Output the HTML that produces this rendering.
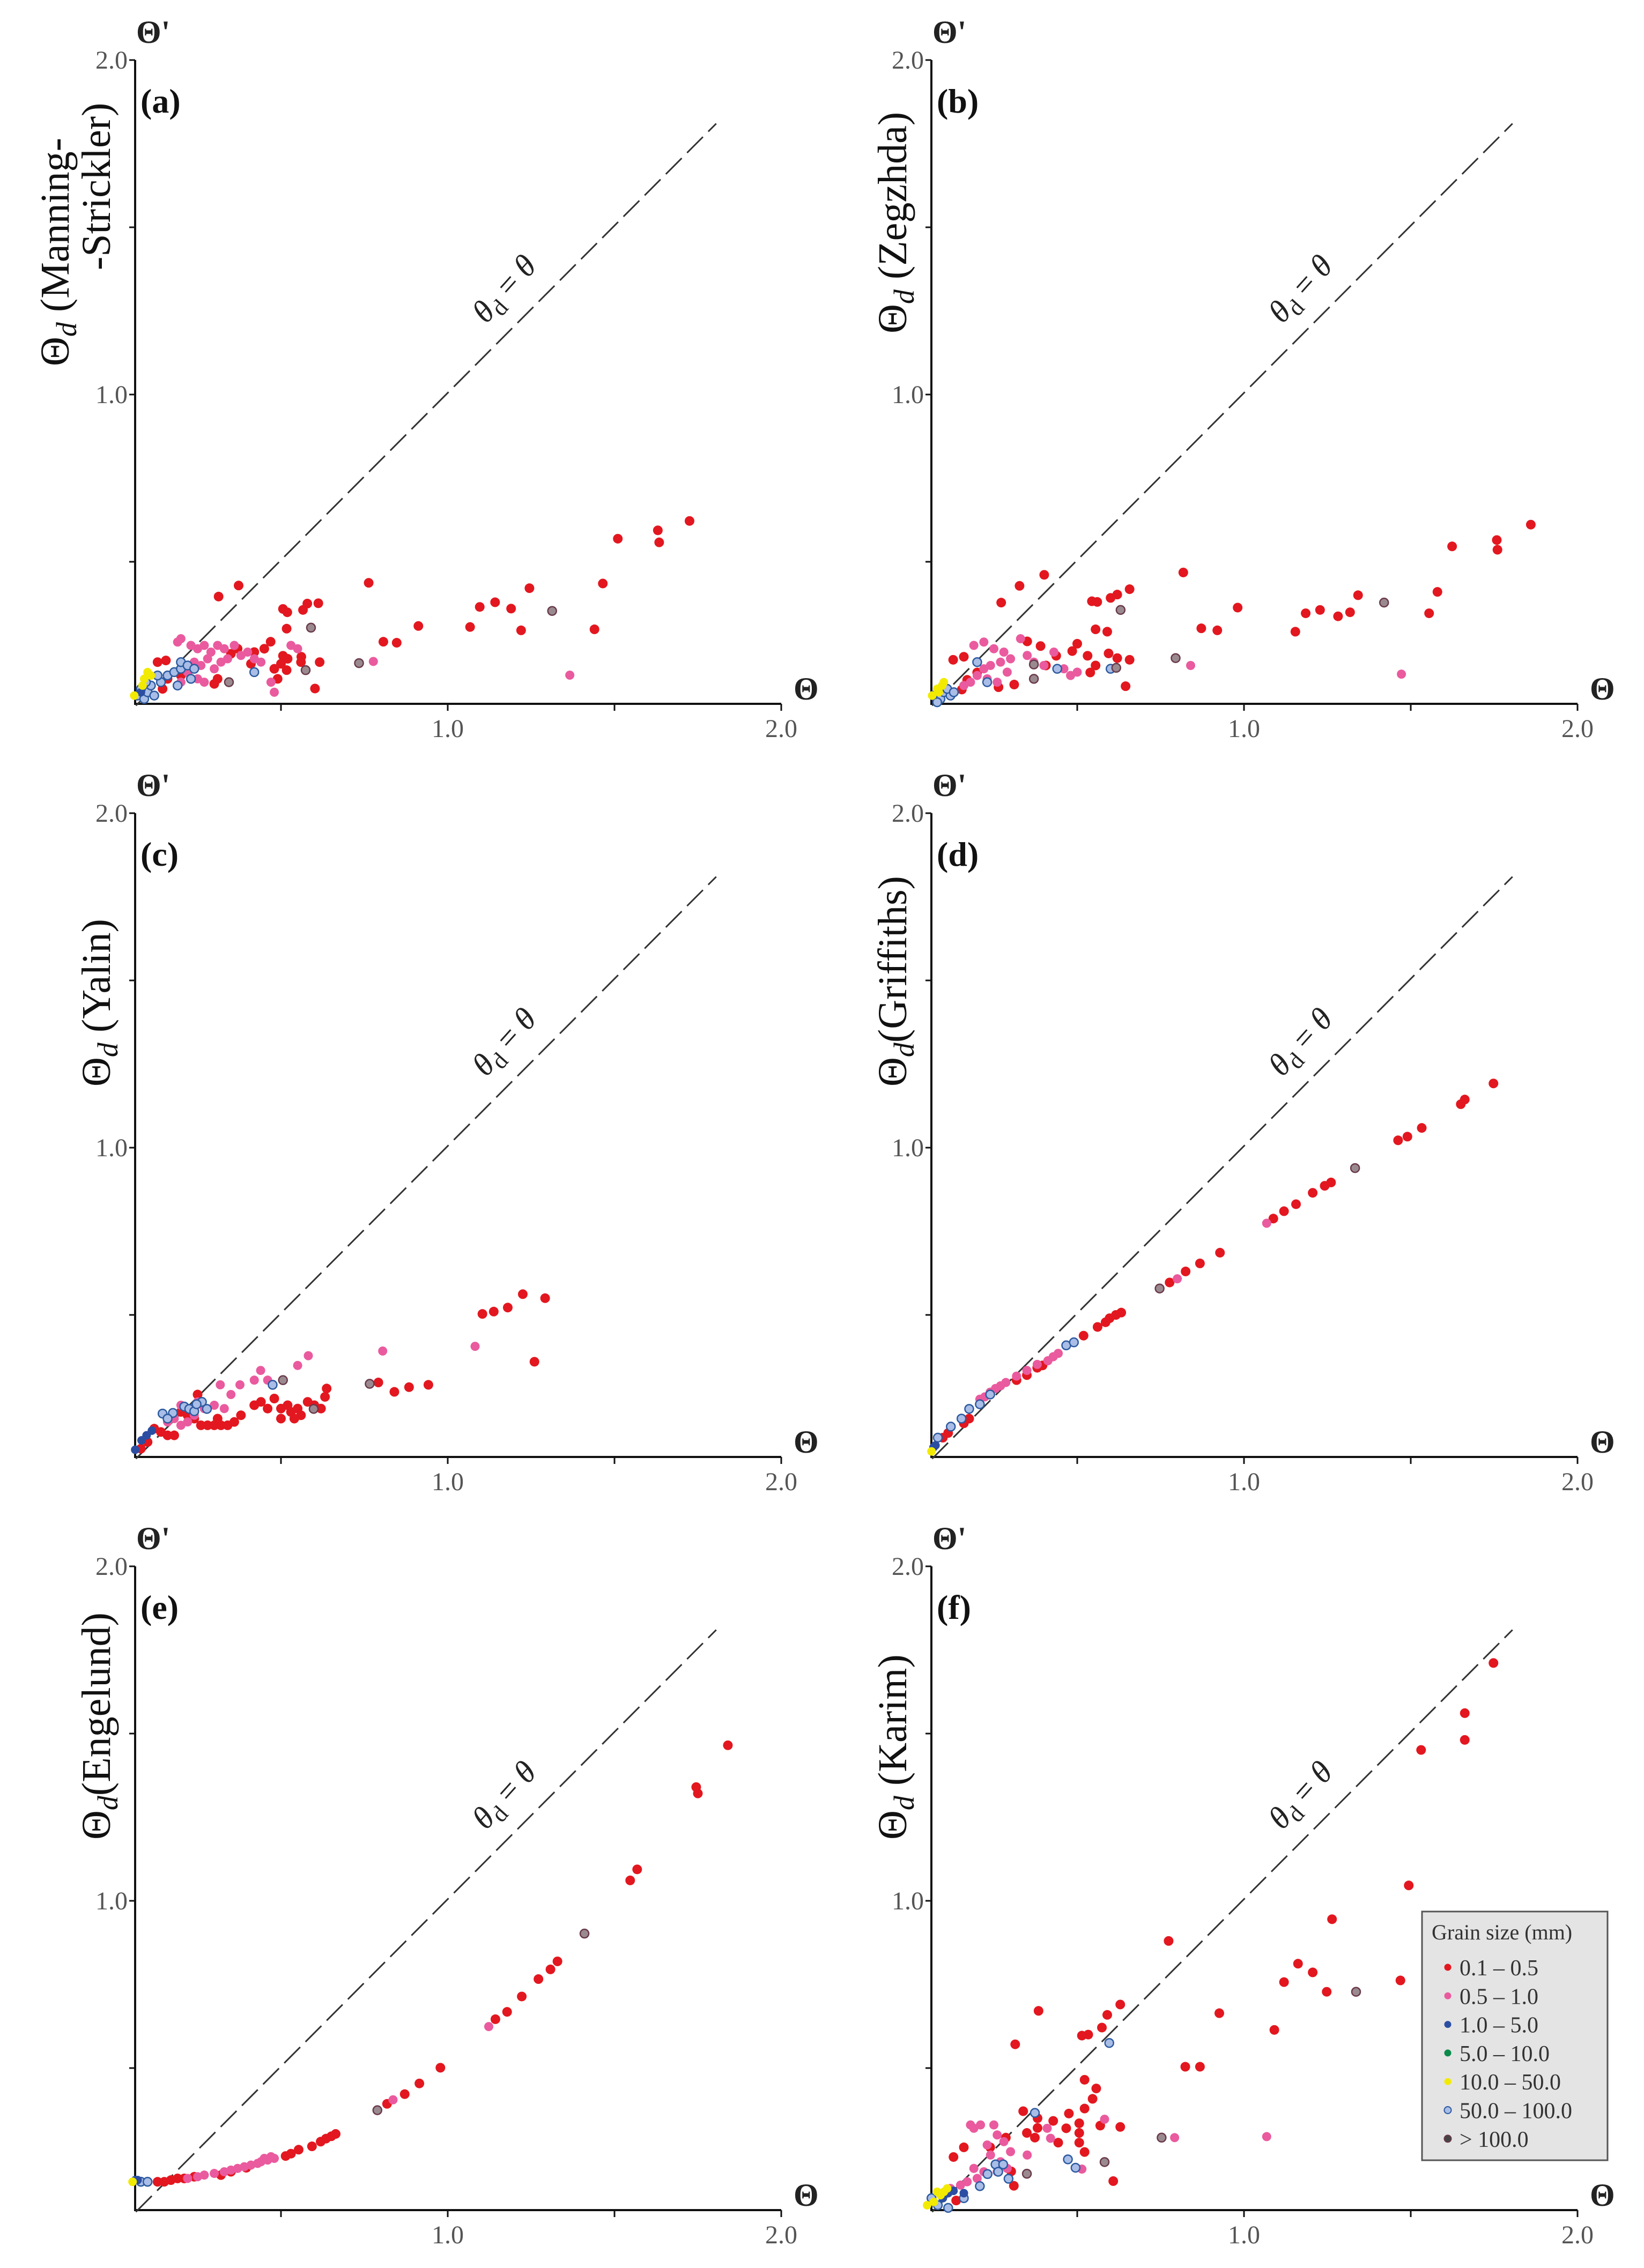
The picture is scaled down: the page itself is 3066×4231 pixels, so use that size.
<!DOCTYPE html>
<html><head><meta charset="utf-8">
<style>
html,body{margin:0;padding:0;background:#fff;}
svg{display:block;font-family:"Liberation Serif",serif;}
</style></head>
<body>
<svg id="fig" xmlns="http://www.w3.org/2000/svg" width="3066" height="4231" viewBox="0 0 3066 4231">
<rect width="3066" height="4231" fill="#fff"/>
</svg>
<script>
// ---- data (theta, theta_d) per panel and grain class ----
const aRed=[[1.725,0.622],[1.63,0.594],[1.634,0.558],[1.51,0.569],[1.465,0.435],[1.245,0.421],[1.44,0.298],[1.22,0.295],[1.19,0.36],[1.142,0.379],[1.096,0.365],[1.067,0.305],[0.912,0.308],[0.847,0.258],[0.807,0.261],[0.763,0.437],[0.373,0.429],[0.313,0.396],[0.506,0.359],[0.519,0.349],[0.517,0.3],[0.566,0.356],[0.579,0.375],[0.612,0.376],[0.469,0.261],[0.506,0.219],[0.517,0.176],[0.561,0.216],[0.616,0.2],[0.602,0.121],[0.48,0.18],[0.49,0.15],[0.35,0.225],[0.37,0.24],[0.155,0.205],[0.13,0.2],[0.3,0.135],[0.31,0.15],[0.145,0.12],[0.16,0.15],[0.2,0.16],[0.22,0.17],[0.45,0.24],[0.42,0.23],[0.52,0.21],[0.5,0.195],[0.56,0.2],[0.41,0.195]];
const aPink=[[1.366,0.161],[0.777,0.202],[0.19,0.26],[0.2,0.27],[0.23,0.25],[0.25,0.24],[0.27,0.25],[0.29,0.23],[0.31,0.25],[0.33,0.24],[0.36,0.25],[0.38,0.22],[0.4,0.23],[0.42,0.21],[0.44,0.2],[0.24,0.2],[0.26,0.19],[0.28,0.21],[0.22,0.17],[0.25,0.15],[0.27,0.14],[0.3,0.18],[0.32,0.2],[0.34,0.21],[0.47,0.14],[0.48,0.11],[0.53,0.25],[0.55,0.24],[0.2,0.14]];
const aBlue=[[0.08,0.11]];
const aYellow=[[0.06,0.1],[0.085,0.13],[0.1,0.17],[0.11,0.16],[0.09,0.15]];
const aOpen=[[0.07,0.1],[0.09,0.09],[0.1,0.11],[0.08,0.12],[0.11,0.13],[0.12,0.1],[0.14,0.14],[0.16,0.16],[0.18,0.17],[0.2,0.18],[0.2,0.2],[0.22,0.19],[0.23,0.15],[0.19,0.13],[0.24,0.18],[0.095,0.14],[0.13,0.16],[0.42,0.17]];
const aGray=[[1.313,0.353],[0.59,0.303],[0.734,0.197],[0.574,0.176],[0.344,0.14]];

const bRed=[[1.86,0.611],[1.758,0.565],[1.76,0.536],[1.624,0.546],[1.58,0.41],[1.555,0.346],[1.342,0.4],[1.318,0.349],[1.282,0.337],[1.228,0.356],[1.185,0.346],[1.154,0.291],[0.981,0.363],[0.92,0.295],[0.872,0.301],[0.818,0.468],[0.401,0.461],[0.327,0.428],[0.272,0.378],[0.544,0.382],[0.56,0.38],[0.6,0.392],[0.62,0.402],[0.657,0.418],[0.555,0.298],[0.59,0.291],[0.657,0.207],[0.645,0.128],[0.128,0.207],[0.16,0.216],[0.5,0.255],[0.485,0.233],[0.531,0.219],[0.555,0.19],[0.539,0.169],[0.594,0.226],[0.62,0.212],[0.406,0.19],[0.437,0.219],[0.35,0.262],[0.39,0.248],[0.311,0.133],[0.264,0.125],[0.2,0.169],[0.17,0.147],[0.154,0.118]];
const bPink=[[1.472,0.164],[0.84,0.19],[0.19,0.25],[0.22,0.26],[0.25,0.24],[0.28,0.23],[0.3,0.21],[0.27,0.2],[0.24,0.19],[0.22,0.18],[0.2,0.16],[0.23,0.15],[0.26,0.14],[0.29,0.17],[0.33,0.27],[0.35,0.22],[0.37,0.2],[0.4,0.19],[0.43,0.23],[0.46,0.18],[0.48,0.16],[0.16,0.13],[0.18,0.14],[0.5,0.17]];
const bBlue=[];
const bYellow=[[0.065,0.1],[0.08,0.12],[0.095,0.13],[0.1,0.14],[0.085,0.11]];
const bOpen=[[0.07,0.1],[0.09,0.09],[0.1,0.11],[0.12,0.1],[0.11,0.12],[0.13,0.11],[0.08,0.08],[0.2,0.2],[0.23,0.14],[0.44,0.18],[0.6,0.18]];
const bGray=[[1.42,0.378],[0.63,0.356],[0.795,0.212],[0.617,0.183],[0.37,0.193],[0.37,0.15]];

const cRed=[[1.225,0.562],[1.292,0.55],[1.18,0.522],[1.138,0.51],[1.104,0.503],[1.26,0.36],[0.942,0.291],[0.884,0.284],[0.84,0.27],[0.792,0.298],[0.637,0.28],[0.632,0.255],[0.48,0.25],[0.5,0.22],[0.52,0.23],[0.53,0.21],[0.55,0.22],[0.56,0.2],[0.58,0.24],[0.6,0.23],[0.62,0.22],[0.54,0.19],[0.5,0.19],[0.46,0.22],[0.42,0.23],[0.44,0.24],[0.26,0.17],[0.28,0.17],[0.3,0.17],[0.32,0.17],[0.34,0.17],[0.36,0.18],[0.38,0.2],[0.31,0.19],[0.24,0.19],[0.22,0.2],[0.2,0.21],[0.14,0.15],[0.16,0.14],[0.18,0.14],[0.12,0.16],[0.1,0.12],[0.08,0.1],[0.25,0.262]];
const cPink=[[0.805,0.392],[1.082,0.406],[0.582,0.378],[0.55,0.349],[0.439,0.334],[0.46,0.305],[0.42,0.305],[0.377,0.291],[0.318,0.291],[0.35,0.262],[0.2,0.17],[0.22,0.18],[0.18,0.19],[0.16,0.18],[0.24,0.2],[0.27,0.22],[0.3,0.23],[0.33,0.22],[0.25,0.24],[0.2,0.23]];
const cBlue=[[0.063,0.097],[0.113,0.154],[0.082,0.125],[0.097,0.14]];
const cYellow=[];
const cOpen=[[0.145,0.205],[0.176,0.207],[0.21,0.226],[0.225,0.219],[0.24,0.212],[0.263,0.24],[0.278,0.219],[0.247,0.233],[0.16,0.19],[0.475,0.291]];
const cGray=[[0.766,0.294],[0.598,0.219],[0.506,0.305]];

const dRed=[[1.748,1.192],[1.662,1.144],[1.65,1.13],[1.533,1.059],[1.49,1.033],[1.462,1.022],[1.261,0.896],[1.242,0.886],[1.206,0.865],[1.156,0.831],[1.12,0.81],[1.088,0.788],[0.928,0.686],[0.868,0.654],[0.825,0.63],[0.777,0.597],[0.632,0.507],[0.616,0.5],[0.597,0.49],[0.585,0.478],[0.561,0.464],[0.519,0.438],[0.396,0.349],[0.38,0.342],[0.349,0.32],[0.318,0.305],[0.176,0.19],[0.16,0.176],[0.113,0.147],[0.097,0.133]];
const dPink=[[1.068,0.774],[0.8,0.608],[0.443,0.385],[0.428,0.375],[0.412,0.363],[0.38,0.352],[0.349,0.334],[0.318,0.317],[0.286,0.298],[0.27,0.288],[0.255,0.28],[0.239,0.269],[0.223,0.255],[0.208,0.248]];
const dBlue=[[0.069,0.104],[0.075,0.11]];
const dYellow=[[0.063,0.092]];
const dOpen=[[0.467,0.409],[0.49,0.418],[0.176,0.219],[0.153,0.19],[0.121,0.166],[0.082,0.133],[0.208,0.233],[0.239,0.262]];
const dGray=[[0.747,0.579],[1.333,0.939]];

const eRed=[[1.84,1.465],[1.745,1.34],[1.75,1.321],[1.568,1.094],[1.547,1.061],[1.329,0.819],[1.308,0.795],[1.272,0.766],[1.222,0.714],[1.178,0.668],[1.143,0.646],[0.978,0.501],[0.915,0.454],[0.871,0.422],[0.818,0.393],[0.664,0.303],[0.651,0.296],[0.635,0.289],[0.619,0.28],[0.593,0.266],[0.553,0.256],[0.53,0.244],[0.514,0.237],[0.396,0.202],[0.13,0.16],[0.15,0.16],[0.17,0.165],[0.19,0.17],[0.21,0.17],[0.24,0.175],[0.32,0.18],[0.35,0.19],[0.1,0.16],[0.08,0.16]];
const ePink=[[1.123,0.624],[0.836,0.405],[0.44,0.22],[0.45,0.23],[0.46,0.225],[0.47,0.235],[0.48,0.23],[0.43,0.215],[0.41,0.21],[0.39,0.205],[0.37,0.2],[0.35,0.195],[0.33,0.19],[0.3,0.185],[0.27,0.18],[0.25,0.175],[0.22,0.17]];
const eBlue=[[0.063,0.165],[0.07,0.165]];
const eYellow=[[0.055,0.16]];
const eOpen=[[0.08,0.16],[0.1,0.16]];
const eGray=[[0.789,0.374],[1.41,0.902]];

const fRed=[[1.748,1.711],[1.662,1.561],[1.662,1.481],[1.531,1.451],[1.494,1.046],[1.264,0.945],[1.162,0.812],[1.206,0.786],[1.12,0.757],[1.469,0.762],[1.248,0.728],[1.091,0.614],[0.926,0.664],[0.774,0.88],[0.629,0.69],[0.59,0.659],[0.574,0.621],[0.533,0.6],[0.514,0.597],[0.384,0.671],[0.314,0.571],[0.868,0.504],[0.824,0.504],[0.629,0.324],[0.569,0.328],[0.522,0.465],[0.557,0.439],[0.546,0.408],[0.522,0.379],[0.506,0.335],[0.506,0.306],[0.506,0.277],[0.522,0.249],[0.475,0.364],[0.467,0.32],[0.443,0.277],[0.428,0.342],[0.381,0.35],[0.381,0.321],[0.373,0.292],[0.349,0.306],[0.338,0.371],[0.286,0.292],[0.239,0.263],[0.16,0.263],[0.129,0.234],[0.608,0.162],[0.31,0.148],[0.302,0.191],[0.137,0.104]];
const fPink=[[1.068,0.295],[0.792,0.292],[0.582,0.347],[0.514,0.198],[0.18,0.33],[0.19,0.32],[0.21,0.33],[0.25,0.33],[0.26,0.3],[0.28,0.28],[0.23,0.27],[0.24,0.24],[0.27,0.22],[0.29,0.2],[0.26,0.19],[0.22,0.19],[0.19,0.2],[0.2,0.17],[0.17,0.16],[0.15,0.15],[0.3,0.25],[0.35,0.24],[0.41,0.32],[0.42,0.29],[0.12,0.14]];
const fBlue=[[0.113,0.126],[0.129,0.133],[0.16,0.126],[0.097,0.111]];
const fYellow=[[0.05,0.09],[0.07,0.1],[0.09,0.12],[0.1,0.13],[0.11,0.14],[0.08,0.13]];
const fOpen=[[0.373,0.366],[0.596,0.575],[0.472,0.227],[0.495,0.202],[0.255,0.212],[0.278,0.212],[0.263,0.19],[0.294,0.169],[0.231,0.183],[0.208,0.147],[0.16,0.111],[0.063,0.111],[0.082,0.09],[0.113,0.082]];
const fGray=[[0.753,0.292],[1.336,0.728],[0.582,0.219],[0.349,0.184]];

const xTicks=[0.5,1.0,1.5,2.0];
const yTicks=[0.5,1.0,1.5,2.0];
const xTickLabels=["","1.0","","2.0"];
const yTickLabels=["","1.0","","2.0"];
const legendLabels=["0.1 \u2013 0.5","0.5 \u2013 1.0","1.0 \u2013 5.0","5.0 \u2013 10.0","10.0 \u2013 50.0","50.0 \u2013 100.0","> 100.0"];

const NS="http://www.w3.org/2000/svg";
const svg=document.getElementById('fig');
function mk(tag,attrs,parent){const e=document.createElementNS(NS,tag);for(const k in attrs)e.setAttribute(k,attrs[k]);(parent||svg).appendChild(e);return e;}

const styles={
 red:{fill:"#e3171f",stroke:"none",sw:0,r:9},
 pink:{fill:"#ea5a9e",stroke:"none",sw:0,r:8.5},
 blue:{fill:"#2b4ea2",stroke:"none",sw:0,r:8},
 green:{fill:"#0b8a4a",stroke:"none",sw:0,r:8},
 yellow:{fill:"#f2ea00",stroke:"none",sw:0,r:8},
 open:{fill:"#a9bde6",stroke:"#2c5aa0",sw:2.5,r:8},
 gray:{fill:"#9a8a90",stroke:"#6a3a4a",sw:2.5,r:8}
};

const panels=[
 {id:"a",ox:0,oy:0,title:["\u0398","d","(Manning-","-Strickler)"],red:aRed,pink:aPink,blue:aBlue,yellow:aYellow,open:aOpen,gray:aGray},
 {id:"b",ox:1485,oy:0,title:["\u0398","d"," (Zegzhda)"],red:bRed,pink:bPink,blue:bBlue,yellow:bYellow,open:bOpen,gray:bGray},
 {id:"c",ox:0,oy:1405,title:["\u0398","d"," (Yalin)"],red:cRed,pink:cPink,blue:cBlue,yellow:cYellow,open:cOpen,gray:cGray},
 {id:"d",ox:1485,oy:1405,title:["\u0398","d","(Griffiths)"],red:dRed,pink:dPink,blue:dBlue,yellow:dYellow,open:dOpen,gray:dGray},
 {id:"e",ox:0,oy:2810,title:["\u0398","d","(Engelund)"],red:eRed,pink:ePink,blue:eBlue,yellow:eYellow,open:eOpen,gray:eGray},
 {id:"f",ox:1485,oy:2810,title:["\u0398","d"," (Karim)"],red:fRed,pink:fPink,blue:fBlue,yellow:fYellow,open:fOpen,gray:fGray}
];

panels.forEach(p=>{
 const X=v=>p.ox+213+622*v;
 const Y=v=>p.oy+1360-624*v;
 const cx=p.ox+252, cy=p.oy+1313;
 const g=mk('g',{});
 
 
 const ya=mk('line',{x1:cx,y1:Y(2.0),x2:cx,y2:cy+2,stroke:"#111","stroke-width":4},g);
 
 
 const xa=mk('line',{x1:cx-2,y1:cy,x2:X(2.0),y2:cy,stroke:"#111","stroke-width":4},g);
 
 
 yTicks.forEach((t,i)=>{
  const tk=mk('line',{x1:cx-11,y1:Y(t),x2:cx,y2:Y(t),stroke:"#111","stroke-width":3},g);
  
  
  if(yTickLabels[i]){
   const tl=mk('text',{x:cx-14,y:Y(t)+16,"text-anchor":"end","font-size":48,fill:"#555"},g);
   tl.textContent=yTickLabels[i];
   
   
  }
 });
 xTicks.forEach((t,i)=>{
  const tk=mk('line',{x1:X(t),y1:cy,x2:X(t),y2:cy+13,stroke:"#111","stroke-width":3},g);
  
  
  if(xTickLabels[i]){
   const tl=mk('text',{x:X(t),y:cy+62,"text-anchor":"middle","font-size":48,fill:"#555"},g);
   tl.textContent=xTickLabels[i];
   
   
  }
 });
 const yt=mk('text',{x:cx+2,y:p.oy+80,"font-size":60,"font-weight":"bold",fill:"#222"},g);
 yt.textContent="\u0398'";
 
 
 const xt=mk('text',{x:p.ox+1480,y:cy-8,"font-size":60,"font-weight":"bold",fill:"#222"},g);
 xt.textContent="\u0398";
 
 
 const pl=mk('text',{x:p.ox+262,y:p.oy+210,"font-size":64,"font-weight":"bold",fill:"#111"},g);
 pl.textContent="("+p.id+")";
 
 
 if(p.title.length===4){
  const t1=mk('text',{transform:`translate(${p.ox+128},${p.oy+683}) rotate(-90)`,"font-size":76,fill:"#111"},g);
  
  
  const s1=mk('tspan',{},t1);s1.textContent=p.title[0];
  const s2=mk('tspan',{"font-style":"italic","font-size":54,dy:14},t1);s2.textContent=p.title[1];
  const s3=mk('tspan',{dy:-14},t1);s3.textContent=" "+p.title[2];
  const t2=mk('text',{transform:`translate(${p.ox+205},${p.oy+504}) rotate(-90)`,"font-size":76,fill:"#111"},g);
  t2.textContent=p.title[3];
  
  
 } else {
  const t1=mk('text',{transform:`translate(${p.ox+205},${p.oy+622}) rotate(-90)`,"font-size":76,fill:"#111"},g);
  
  
  const s1=mk('tspan',{},t1);s1.textContent=p.title[0];
  const s2=mk('tspan',{"font-style":"italic","font-size":54,dy:14},t1);s2.textContent=p.title[1];
  const s3=mk('tspan',{dy:-14},t1);s3.textContent=p.title[2];
 }
 const dl=mk('line',{x1:X(0.065),y1:Y(0.07),x2:X(1.805),y2:Y(1.81),stroke:"#333","stroke-width":3,"stroke-dasharray":"42 14"},g);
 
 
 const lab=mk('text',{transform:`translate(${p.ox+955},${p.oy+552}) rotate(-48)`,"text-anchor":"middle","font-size":60,fill:"#222"},g);
 
 
 const l1=mk('tspan',{"font-style":"italic"},lab);l1.textContent="\u03b8";
 const l2=mk('tspan',{"font-size":44,dy:12},lab);l2.textContent="d";
 const l3=mk('tspan',{dy:-12},lab);l3.textContent=" = ";
 const l4=mk('tspan',{"font-style":"italic"},lab);l4.textContent="\u03b8";
 ["red","pink","open","gray","blue","yellow"].forEach(cls=>{
  const s=styles[cls];
  p[cls].forEach(d=>{
   const c=mk('circle',{cx:X(d[0]),cy:Y(d[1]),r:s.r,fill:s.fill,stroke:s.stroke,"stroke-width":s.sw},g);
   
   
  });
 });
});

const lg=mk('g',{});


const lb=mk('rect',{x:2652,y:3566,width:346,height:464,fill:"#e4e4e4",stroke:"#555","stroke-width":3},lg);


const lt=mk('text',{x:2670,y:3618,"font-size":40,fill:"#333"},lg);
lt.textContent="Grain size (mm)";


const legCls=["red","pink","blue","green","yellow","open","gray"];
legendLabels.forEach((txt,i)=>{
 const y=3670+53.3*i;
 const s=styles[legCls[i]];
 const m=mk('circle',{cx:2700,cy:y,r:6.5,fill:legCls[i]==="gray"?"#444":s.fill,stroke:s.stroke,"stroke-width":s.sw?2:0},lg);
 
 
 const t=mk('text',{x:2722,y:y+15,"font-size":42,fill:"#333"},lg);
 t.textContent=txt;
 
 
});
</script>
</body></html>
